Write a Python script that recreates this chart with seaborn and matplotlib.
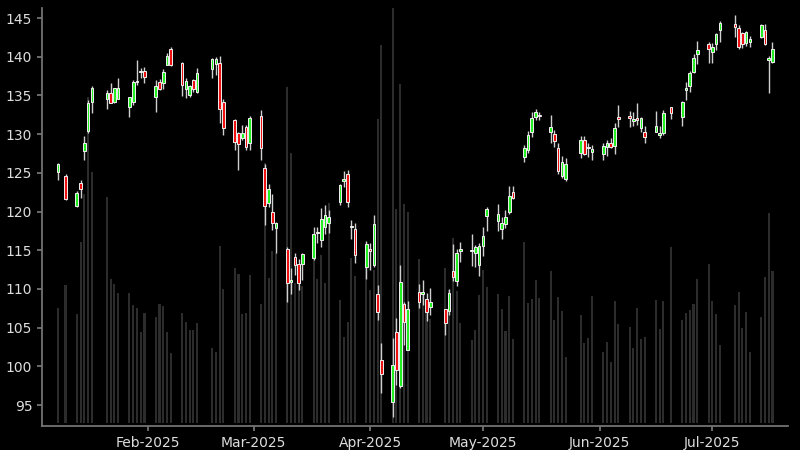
import matplotlib
matplotlib.use('Agg')  # no display
import matplotlib.pyplot as plt
import matplotlib.dates as mdates
import seaborn as sns
import numpy as np
import pandas as pd

# trading days (market holidays removed)
holidays = ['2025-01-09', '2025-01-20', '2025-02-17', '2025-04-18',
            '2025-05-26', '2025-06-19', '2025-07-04']
dates = pd.bdate_range('2025-01-08', '2025-07-17')
dates = dates[~dates.isin(pd.to_datetime(holidays))]

open_ = [125.1, 124.6, 120.7, 123.7, 127.85, 130.4, 134.2,
         134.5, 135.3, 134.1, 134.6,
         133.45, 134.2, 136.75, 138.0, 138.2,
         134.8, 136.8, 136.6, 139.0, 141.0,
         139.25, 135.8, 135.05, 137.0, 135.5,
         138.4, 139.05, 139.2, 134.2,
         131.8, 130.1, 129.45, 130.9, 128.9,
         132.3, 125.6, 121.05, 119.9, 117.9,
         115.1, 110.9, 114.1, 113.2, 113.2,
         114.0, 117.4, 116.3, 117.95, 118.5,
         121.2, 124.0, 124.85, 118.0, 117.8,
         112.9, 115.15, 113.1, 109.3, 100.8,
         95.45, 104.5, 97.4, 108.05, 102.1,
         109.6, 109.3, 108.75, 107.7,
         107.35, 107.2, 112.35, 111.0, 114.9,
         114.95, 114.6, 113.1, 115.55, 119.4,
         118.8, 117.8, 118.4, 120.0, 122.55,
         127.0, 128.0, 130.3, 132.2, 132.45,
         130.3, 130.0, 128.25, 124.6, 124.2,
         127.6, 129.3, 128.2, 127.65,
         127.5, 128.3, 128.9, 128.5, 132.2,
         132.35, 131.7, 132.15, 130.75, 130.3,
         130.3, 129.95, 130.1, 133.45,
         132.2, 135.7, 136.2, 138.05, 140.35,
         141.6, 140.65, 141.7, 143.4,
         144.2, 143.75, 143.1, 141.8, 141.9,
         142.6, 143.4, 139.55, 139.3]
high = [126.3, 124.8, 122.7, 124.1, 129.7, 134.4, 136.2,
        135.7, 136.6, 136.0, 137.2,
        134.8, 137.0, 139.6, 138.6, 138.7,
        137.0, 137.1, 138.4, 140.5, 141.2,
        139.3, 137.2, 136.3, 137.1, 138.5,
        139.9, 140.0, 140.1, 134.6,
        132.0, 130.3, 131.2, 131.2, 132.4,
        133.1, 126.2, 123.55, 122.3, 118.7,
        115.45, 112.65, 114.6, 113.9, 114.6,
        118.0, 118.0, 120.4, 120.8, 120.2,
        123.6, 125.3, 125.4, 118.85, 118.55,
        116.2, 116.0, 119.5, 110.55, 103.0,
        103.6, 106.2, 113.1, 108.3, 108.4,
        110.65, 111.2, 109.5, 110.1,
        107.45, 110.0, 115.85, 115.15, 116.1,
        117.1, 115.7, 115.9, 118.0, 120.6,
        121.0, 119.3, 120.2, 123.25, 123.25,
        128.6, 130.4, 132.9, 133.2, 132.9,
        132.5, 130.5, 128.8, 127.2, 126.9,
        129.7, 129.7, 128.8, 128.6,
        128.8, 129.3, 129.5, 131.5, 133.75,
        133.0, 132.8, 134.0, 132.2, 131.1,
        133.0, 131.1, 133.1, 133.5,
        134.3, 136.7, 138.2, 140.3, 142.05,
        141.9, 141.8, 143.1, 144.6,
        145.4, 144.1, 143.2, 143.3, 142.7,
        144.2, 144.2, 140.1, 141.9]
low = [124.1, 121.5, 120.6, 121.8, 126.65, 130.1, 132.7,
       133.3, 134.0, 134.0, 134.5,
       132.25, 133.8, 136.3, 137.2, 136.6,
       132.9, 135.7, 135.8, 139.0, 138.8,
       134.9, 134.7, 134.8, 135.5, 135.3,
       137.2, 137.6, 131.5, 129.9,
       127.9, 125.4, 129.2, 127.9, 127.9,
       126.65, 118.25, 120.6, 117.6, 114.6,
       108.35, 109.4, 111.8, 109.8, 111.2,
       113.7, 116.0, 115.4, 117.1, 117.2,
       120.8, 123.2, 120.6, 116.4, 113.3,
       111.3, 112.5, 112.9, 106.0, 96.5,
       93.5, 97.6, 97.15, 102.7, 102.1,
       107.5, 107.9, 105.9, 106.6,
       104.0, 106.6, 111.0, 110.35, 113.45,
       112.95, 112.8, 111.7, 114.3, 117.5,
       117.5, 116.5, 117.9, 119.7, 121.6,
       126.4, 127.6, 129.6, 131.8, 131.8,
       128.9, 128.3, 124.9, 124.4, 123.9,
       126.9, 127.3, 127.0, 126.6,
       126.6, 127.2, 128.2, 127.45, 130.9,
       130.9, 131.1, 131.2, 130.3, 128.9,
       130.3, 129.5, 129.9, 131.9,
       131.1, 134.4, 135.5, 137.9, 139.1,
       139.2, 139.2, 140.9, 141.9,
       142.6, 141.0, 141.1, 141.4, 141.3,
       142.4, 141.5, 135.3, 139.2]
close = [126.1, 121.65, 122.35, 122.9, 128.8, 133.98, 136.0,
         135.35, 134.06, 135.9, 135.9,
         134.75, 136.8, 136.85, 138.1, 137.4,
         136.2, 135.8, 138.05, 140.1, 138.9,
         136.3, 136.85, 136.2, 135.8, 137.9,
         139.7, 139.7, 133.3, 130.75,
         129.0, 128.7, 130.1, 128.3, 132.15,
         128.15, 120.75, 122.9, 118.5, 118.55,
         110.8, 111.2, 113.1, 110.8, 114.5,
         117.05, 117.2, 119.0, 119.5, 119.3,
         123.4, 124.2, 121.2, 118.1, 114.4,
         115.8, 114.9, 118.4, 107.05, 99.0,
         100.2, 99.5, 110.85, 105.75, 107.35,
         108.3, 109.55, 107.05, 108.35,
         105.55, 109.5, 111.5, 114.7, 115.15,
         115.05, 115.4, 115.5, 116.8, 120.3,
         119.7, 118.5, 119.25, 122.0, 121.8,
         128.2, 129.9, 132.1, 132.9, 132.35,
         130.95, 129.1, 125.3, 126.45, 126.1,
         129.3, 127.5, 128.3, 128.05,
         128.45, 128.8, 128.3, 130.75, 131.9,
         132.05, 131.9, 131.8, 132.05, 129.6,
         131.05, 130.2, 132.7, 132.75,
         134.1, 136.0, 137.9, 139.9, 140.9,
         140.95, 141.2, 143.0, 144.3,
         143.9, 141.2, 141.7, 143.2, 142.35,
         144.05, 141.7, 139.9, 141.0]
# volume in millions of shares
volume = [28.75, 34.5, 27.25, 45.25, 57.25, 81.5, 62.75,
          56.5, 36.0, 34.75, 32.5,
          32.5, 29.5, 28.75, 22.75, 27.5,
          26.5, 29.75, 29.25, 22.75, 17.5,
          27.5, 25.25, 23.25, 23.25, 25.0,
          18.75, 17.75, 44.25, 33.5,
          38.75, 37.25, 27.25, 27.5, 37.0,
          29.75, 65.0, 36.25, 43.0, 42.5,
          84.0, 67.5, 35.0, 35.75, 34.25,
          41.25, 36.0, 42.0, 35.0, 55.0,
          30.75, 21.5, 25.25, 41.25, 36.75,
          40.25, 33.25, 38.25, 76.0, 94.5,
          103.75, 53.5, 84.75, 54.75, 52.75,
          41.0, 32.5, 30.75, 26.0,
          38.75, 33.25, 46.25, 33.0, 25.0,
          20.75, 23.25, 32.0, 38.25, 34.0,
          32.25, 28.5, 23.0, 31.75, 21.0,
          45.25, 30.0, 31.0, 35.75, 31.25,
          38.0, 25.75, 31.5, 28.0, 16.5,
          27.0, 20.0, 21.25, 31.75,
          17.75, 20.25, 15.25, 30.5, 24.75,
          24.0, 18.75, 28.75, 21.0, 21.5,
          30.75, 23.5, 30.5, 44.0,
          25.75, 27.5, 28.25, 29.75, 36.0,
          39.75, 30.5, 27.25, 19.5,
          29.5, 32.75, 23.75, 27.75, 17.75,
          26.5, 36.5, 52.5, 38.0]

df = pd.DataFrame({'date': dates, 'open': open_, 'high': high,
                   'low': low, 'close': close, 'volume': volume})
df['up'] = df['close'] >= df['open']

sns.set_theme(style='dark', rc={
    'figure.facecolor': 'black', 'axes.facecolor': 'black',
    'axes.edgecolor': '#777777', 'axes.grid': False,
    'xtick.color': '#dddddd', 'ytick.color': '#dddddd',
    'text.color': '#dddddd', 'axes.labelcolor': '#dddddd',
    'xtick.bottom': True, 'ytick.left': True,
})
plt.rcParams['font.family'] = ['DejaVu Sans']

fig = plt.figure(figsize=(8, 4.5), dpi=100)
ax = fig.add_axes([0.0525, 0.0533, 0.9325, 0.9289])
axv = ax.twinx()
ax.set_zorder(axv.get_zorder() + 1)
ax.patch.set_visible(False)

# volume bars in the background
axv.bar(df['date'], df['volume'], width=0.55, color='#2c2c2c',
        edgecolor='none', linewidth=0)
vmax = df['volume'].max()
axv.set_ylim(-vmax * 0.0073, vmax)
axv.set_yticks([])
for s in axv.spines.values():
    s.set_visible(False)

# candles
colors = np.where(df['up'], '#22ee22', '#ee1111')
ax.vlines(df['date'], df['low'], df['high'], color='#cfcfcf', lw=1, zorder=1)
ax.bar(df['date'], df['close'] - df['open'], bottom=df['open'], width=0.7,
       color=colors, edgecolor='#f0f0f0', linewidth=0.7, zorder=2)

ax.set_xlim(pd.Timestamp('2025-01-03 18:00'), pd.Timestamp('2025-07-21 03:00'))
ax.set_ylim(92.29, 146.3)
ax.set_yticks(np.arange(95, 146, 5))
ax.xaxis.set_major_locator(mdates.MonthLocator())
ax.xaxis.set_major_formatter(mdates.DateFormatter('%b-%Y'))
ax.tick_params(axis='both', labelsize=10, length=3.5, color='#777777')
ax.spines['top'].set_visible(False)
ax.spines['right'].set_visible(False)
ax.set_xlabel('')
ax.set_ylabel('')

fig.savefig('out.png', dpi=100, facecolor='black')
